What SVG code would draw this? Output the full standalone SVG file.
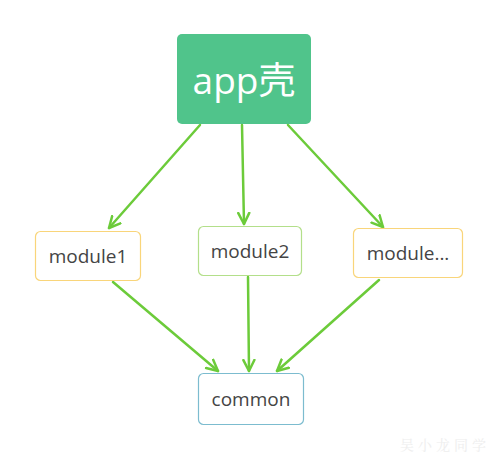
<svg xmlns="http://www.w3.org/2000/svg" width="500" height="462" viewBox="0 0 500 462">
<defs>
<style>
.n{fill:#fff;stroke-width:1.2}
.t{font-family:"Open Sans","Noto Sans","Liberation Sans",sans-serif;font-size:19px;fill:#444;text-anchor:middle}
.e{stroke:#6ccb3a;stroke-width:2.5;fill:none;stroke-linecap:round;marker-end:url(#ah)}
</style>
<marker id="ah" viewBox="0 0 14 14" refX="12" refY="7" markerWidth="14" markerHeight="14" markerUnits="userSpaceOnUse" orient="auto">
<path d="M1,1.5 L12,7 L1,12.5" fill="none" stroke="#6ccb3a" stroke-width="2.5" stroke-linecap="round" stroke-linejoin="round"/>
</marker>
</defs>
<rect width="500" height="462" fill="#fff"/>
<g id="connectors">
<line class="e" x1="200" y1="125" x2="109" y2="228"/>
<line class="e" x1="242" y1="125" x2="244" y2="224"/>
<line class="e" x1="288" y1="125" x2="383" y2="227"/>
<line class="e" x1="113" y1="282" x2="218" y2="371"/>
<line class="e" x1="248" y1="277" x2="249" y2="371"/>
<line class="e" x1="379" y1="280" x2="277" y2="371"/>
</g>
<g id="app">
<rect x="177" y="34" width="134" height="90" rx="5" fill="#50c48b"/>
<text x="244" y="94" font-family="'Open Sans','Noto Sans CJK SC',sans-serif" font-size="37" fill="#fff" text-anchor="middle">app壳</text>
</g>
<g id="module1">
<rect class="n" x="35.5" y="231.5" width="105" height="49" rx="5" stroke="#f9d57a"/>
<text class="t" x="88" y="263">module1</text>
</g>
<g id="module2">
<rect class="n" x="198.5" y="226.5" width="103" height="49" rx="5" stroke="#b3df8a"/>
<text class="t" x="250" y="258">module2</text>
</g>
<g id="module3">
<rect class="n" x="353.5" y="228.5" width="109" height="49" rx="5" stroke="#f9d57a"/>
<text class="t" x="408" y="260">module...</text>
</g>
<g id="common">
<rect class="n" x="198.5" y="373.5" width="105" height="51" rx="5" stroke="#7cbccf"/>
<text class="t" x="251" y="406">common</text>
</g>
<text x="445" y="450" font-family="'Noto Serif CJK SC','Noto Sans CJK SC',serif" font-size="14" fill="#eeeeee" text-anchor="middle" letter-spacing="4">吴小龙同学</text>
</svg>
